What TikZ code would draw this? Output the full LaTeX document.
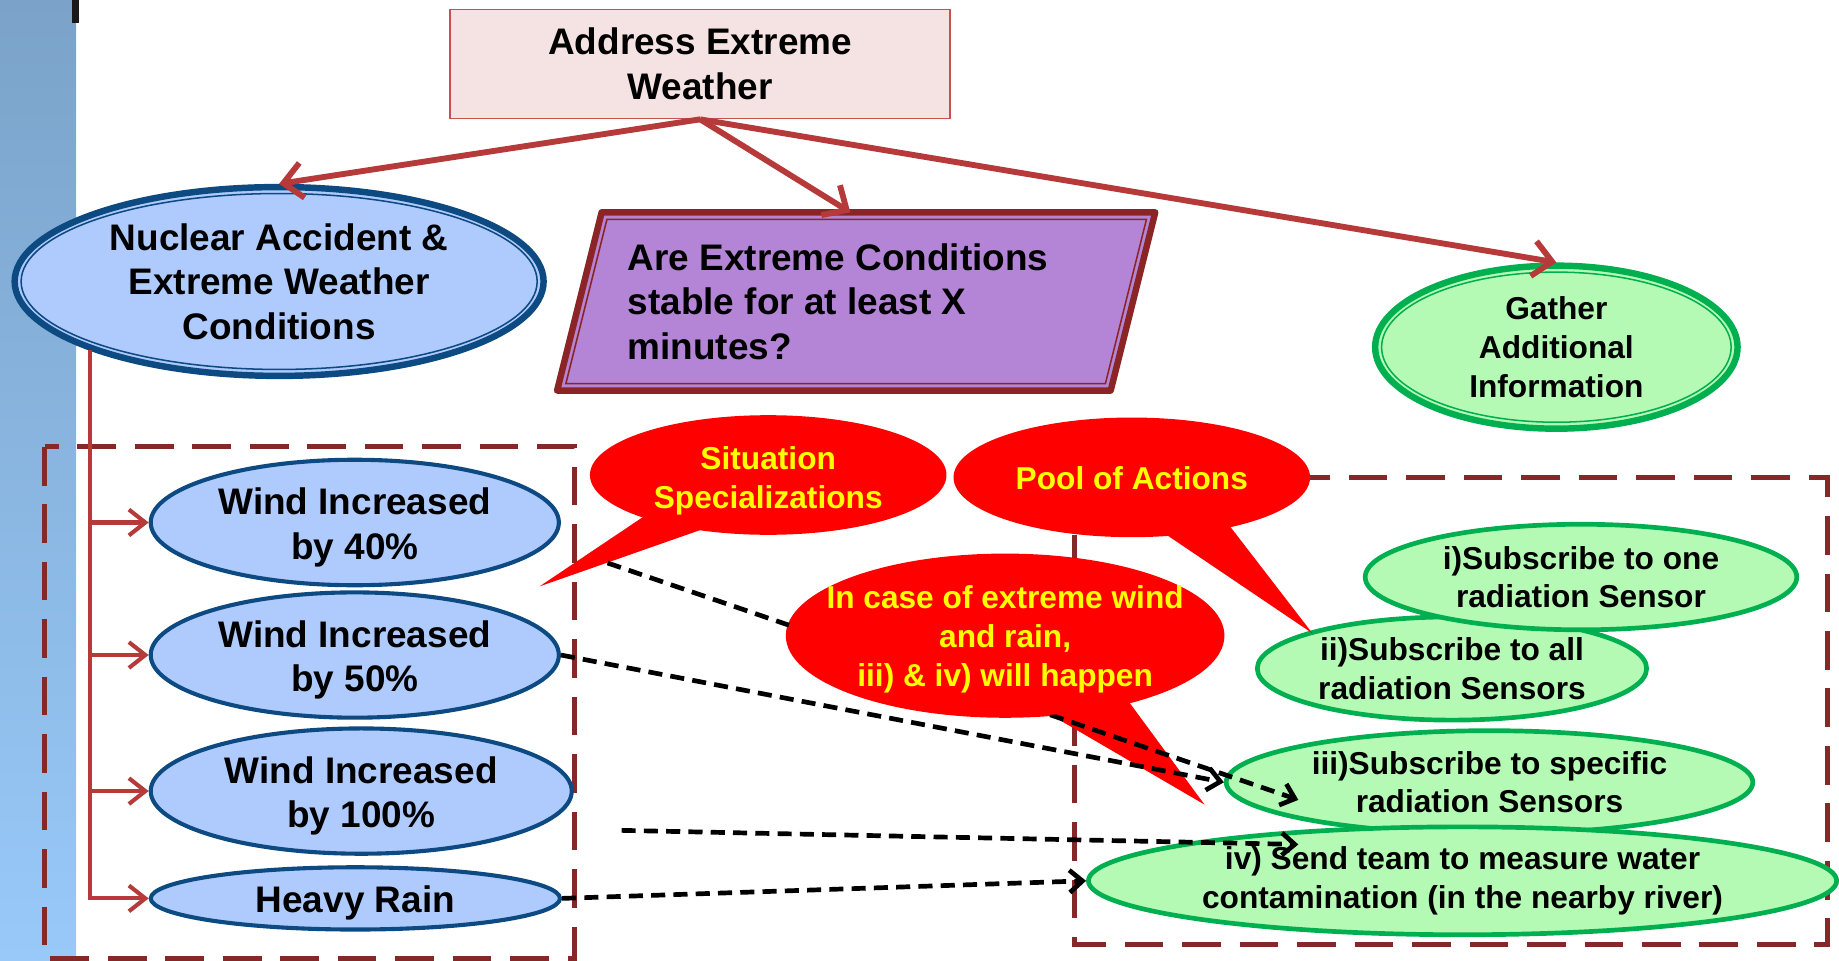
\documentclass[tikz,border=0pt]{standalone}
\usepackage{fontspec}
\setmainfont{Liberation Sans}
\usetikzlibrary{arrows.meta,shapes.geometric,calc}

\definecolor{stripeTop}{HTML}{7BA3C9}
\definecolor{stripeBot}{HTML}{98C9F9}
\definecolor{boxfill}{HTML}{F5E2E2}
\definecolor{boxline}{HTML}{C8504E}
\definecolor{arrred}{HTML}{B73A3A}
\definecolor{bluefill}{HTML}{AFCBFD}
\definecolor{blueline}{HTML}{0D4A82}
\definecolor{purpfill}{HTML}{B484D6}
\definecolor{purpline}{HTML}{8B2525}
\definecolor{grnfill}{HTML}{B4FAB4}
\definecolor{grnline}{HTML}{00B050}
\definecolor{rectline}{HTML}{842828}
\definecolor{callred}{HTML}{FF0000}
\definecolor{callyel}{HTML}{FFFF00}

\newcommand{\mystrut}{\rule{0pt}{31pt}}

\tikzset{
 bigtext/.style={font=\fontsize{31.5}{38}\selectfont\bfseries},
 smalltext/.style={font=\fontsize{27}{33}\selectfont\bfseries},
 blueell/.style={ellipse, draw=blueline, line width=3.5pt, fill=bluefill, inner sep=0pt, align=center, bigtext},
 grnell/.style={ellipse, draw=grnline, line width=4pt, fill=grnfill, inner sep=0pt, align=center, smalltext},
 toparrow/.style={draw=arrred, line width=5pt, -{Straight Barb[length=16pt,width=30pt]}},
 treeline/.style={draw=arrred, line width=3.5pt},
 treearrow/.style={treeline, -{Straight Barb[length=14pt,width=22pt]}},
 dasharrow/.style={draw=black, line width=4pt, dash pattern=on 12pt off 7pt, -{Straight Barb[length=11pt,width=19pt]}},
 grouprect/.style={draw=rectline, line width=4.5pt, dash pattern=on 33pt off 16pt},
 callshape/.style={ellipse, fill=callred, inner sep=0pt},
 calltext/.style={text=callyel, align=center, inner sep=0pt, smalltext},
}

\begin{document}
\begin{tikzpicture}[x=1pt,y=-1pt]
\useasboundingbox (0,0) rectangle (1568,819);

% left stripe
\shade[top color=stripeTop, bottom color=stripeBot] (0,0) rectangle (65,819);
\fill[black!90] (61.5,0) rectangle (67.5,19.5);

% group rectangles
\draw[grouprect] (38,381) rectangle (490,817);
\draw[grouprect] (916,407) rectangle (1558,805);

% top box
\node[draw=boxline, line width=1.5pt, fill=boxfill, minimum width=426pt, minimum height=93pt, bigtext, align=center] (tb) at (597,54.5) {Address Extreme\\Weather};

% nuclear ellipse (double border)
\node[blueell, line width=5.5pt, minimum width=451pt, minimum height=161pt] (nuc) at (238,240) {Nuclear Accident \&\\Extreme Weather\\Conditions};
\draw[blueline, line width=1.3pt] (nuc.center) ellipse [x radius=220pt, y radius=75pt];

% parallelogram
\coordinate (ptl) at (513,181);
\coordinate (ptr) at (985,181);
\coordinate (pbr) at (947,333);
\coordinate (pbl) at (475,333);
\draw[purpline, fill=purpfill, line width=5.5pt, line join=round] (ptl) -- (ptr) -- (pbr) -- (pbl) -- cycle;
\draw[purpline, line width=1.3pt] (517.5,187) -- (977.5,187) -- (942.5,327) -- (482.5,327) -- cycle;
\node[bigtext, align=left, anchor=west, inner sep=0pt] (par) at (535,257) {Are Extreme Conditions\\stable for at least X\\minutes?};
\coordinate (partop) at (725,181);

% gather ellipse (double border)
\node[grnell, line width=5.5pt, minimum width=309pt, minimum height=139pt] (gat) at (1327,296) {Gather\\Additional\\Information};
\draw[grnline, line width=1.3pt] (gat.center) ellipse [x radius=149pt, y radius=64pt];

% top arrows
\draw[toparrow] (tb.south) -- (nuc.north);
\draw[toparrow] (tb.south) -- (partop);
\draw[toparrow] (tb.south) -- (gat.north);

% situation ellipses
\node[blueell, minimum width=348pt, minimum height=107pt] (w40) at (302.5,445.5) {\mystrut Wind Increased\\by 40\%};
\node[blueell, minimum width=348pt, minimum height=106pt] (w50) at (302.5,558.5) {\mystrut Wind Increased\\by 50\%};
\node[blueell, minimum width=359pt, minimum height=106pt] (w100) at (308,674.5) {\mystrut Wind Increased\\by 100\%};
\node[blueell, minimum width=349pt, minimum height=51pt] (hr) at (303,766) {\mystrut Heavy Rain};

% tree connectors
\draw[treearrow] (nuc.200) |- (hr.west);
\draw[treearrow] (nuc.200 |- w40.west) -- (w40.west);
\draw[treearrow] (nuc.200 |- w50.west) -- (w50.west);
\draw[treearrow] (nuc.200 |- w100.west) -- (w100.west);

% actions
\node[grnell, minimum width=332pt, minimum height=88pt] (ii) at (1238,570) {ii)Subscribe to all\\radiation Sensors};
\node[grnell, minimum width=368pt, minimum height=90pt] (i) at (1348,492) {i)Subscribe to one\\radiation Sensor};
\node[grnell, minimum width=449pt, minimum height=88pt] (iii) at (1270,667) {iii)Subscribe to specific\\radiation Sensors};
\node[grnell, minimum width=638pt, minimum height=92pt] (iv) at (1247,751) {iv) Send team to measure water\\contamination (in the nearby river)};

% callouts
\fill[callred] (460,500) -- (553.5,437.3) -- (607.4,448.3) -- cycle;
\node[callshape, minimum width=304pt, minimum height=102pt] (sit) at (655,405) {};
\node[calltext] (sittxt) at (655,410) {Situation\\Specializations};

\fill[callred] (1119,540) -- (974.25,442.25) -- (1037.5,434.2) -- cycle;
\node[callshape, minimum width=304pt, minimum height=102pt] (pool) at (965,407) {};
\node[calltext] (pooltxt) at (965,408) {Pool of Actions};

\fill[callred] (1027,686) -- (875.2,597.45) -- (953.4,586) -- cycle;
\node[callshape, minimum width=374pt, minimum height=140pt] (case) at (857,542) {};
\node[calltext] (casetxt) at (857,545) {In case of extreme wind\\and rain,\\iii) \& iv) will happen};

% dashed arrows
\coordinate (w40s) at (518,480);
\coordinate (w40e) at (1107,682);
\coordinate (w100s) at (530,708);
\coordinate (w100e) at (1107,720);
\begin{scope}[even odd rule]
 \clip (0,0) rectangle (1568,819) (857,542) ellipse [x radius=186pt, y radius=69pt];
 \draw[dasharrow] (w40s) -- (w40e);
\end{scope}
\draw[dasharrow] (w50.east) -- (iii.west);
\draw[dasharrow] (w100s) -- (w100e);
\draw[dasharrow] (hr.east) -- (iv.west);
\end{tikzpicture}
\end{document}
